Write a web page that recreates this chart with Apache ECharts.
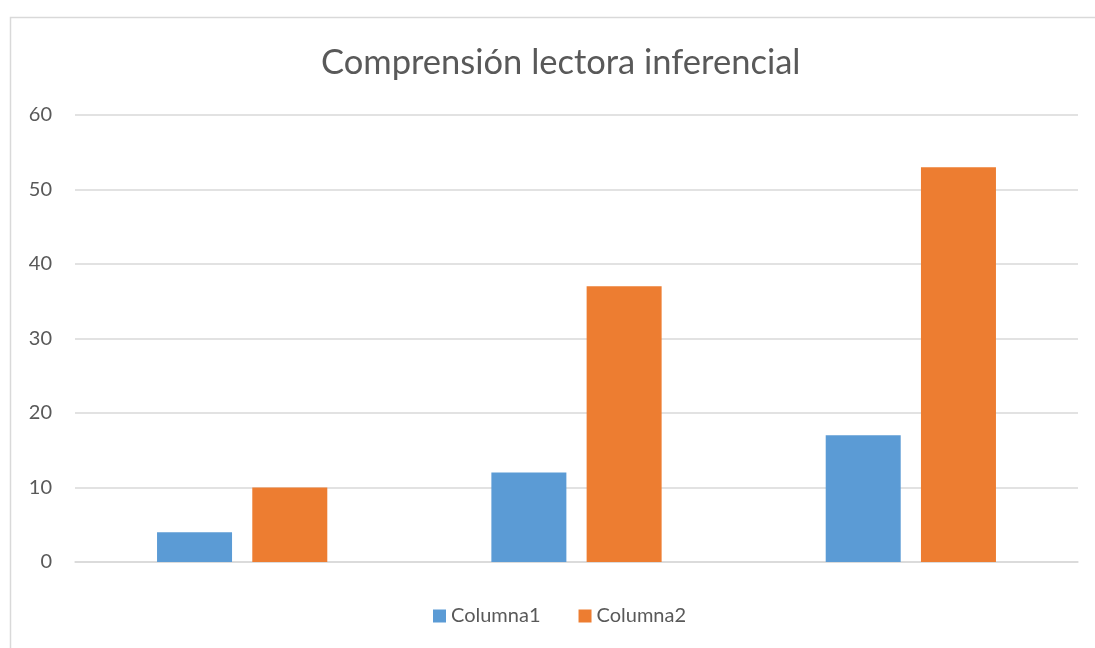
<!DOCTYPE html>
<html>
<head>
<meta charset="utf-8">
<script src="https://cdn.jsdelivr.net/npm/echarts@6/dist/echarts.min.js"></script>
<style>
html,body{margin:0;padding:0;background:#fff;}
#chart{width:1095px;height:648px;}
</style>
</head>
<body>
<div id="chart"></div>
<script>
const categories = ['', '', ''];
const seriesNames = ['Columna1', 'Columna2'];
const columna1 = [4, 12, 17];
const columna2 = [10, 37, 53];
const yTicks = { min: 0, max: 60, interval: 10 };
const titleText = 'Comprensión lectora inferencial';

const chart = echarts.init(document.getElementById('chart'), null, { renderer: 'canvas' });
const font = 'Lato, "Open Sans", sans-serif';
chart.setOption({
  animation: false,
  backgroundColor: '#ffffff',
  graphic: [{
    type: 'rect',
    shape: { x: 10.5, y: 17.5, width: 1200, height: 800 },
    style: { fill: 'none', stroke: '#d9d9d9', lineWidth: 1.5 },
    silent: true
  }],
  title: {
    text: titleText,
    left: 316,
    top: 40,
    textStyle: { color: '#595959', fontSize: 34.5, fontWeight: 'normal', fontFamily: font }
  },
  legend: {
    bottom: 17,
    left: 428,
    itemWidth: 13,
    itemHeight: 13,
    itemGap: 38,
    icon: 'rect',
    textStyle: { color: '#595959', fontSize: 20, fontFamily: font },
    data: seriesNames
  },
  grid: { left: 75, right: 17, top: 115, bottom: 86, containLabel: false },
  xAxis: {
    type: 'category',
    data: categories,
    axisLine: { show: true, lineStyle: { color: '#d9d9d9', width: 1.5 } },
    axisTick: { show: false },
    axisLabel: { show: false }
  },
  yAxis: {
    type: 'value',
    min: yTicks.min, max: yTicks.max, interval: yTicks.interval,
    axisLine: { show: false },
    axisTick: { show: false },
    axisLabel: { color: '#595959', fontSize: 20, margin: 23, fontFamily: font },
    splitLine: { lineStyle: { color: '#d9d9d9', width: 1.5 } }
  },
  series: [
    { name: seriesNames[0], type: 'bar', data: columna1, barWidth: 75, barGap: '27%', itemStyle: { color: '#5B9BD5' } },
    { name: seriesNames[1], type: 'bar', data: columna2, barWidth: 75, barGap: '27%', itemStyle: { color: '#ED7D31' } }
  ]
});
</script>
</body>
</html>
